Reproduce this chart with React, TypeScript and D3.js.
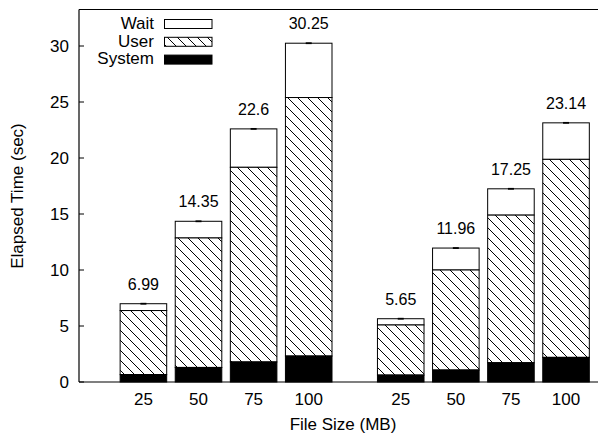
import React from "react";
import * as d3 from "d3";

const categories = ["25", "50", "75", "100"];
const groups = [0, 1];
const systemVals = [
  [0.66, 1.3, 1.79, 2.32],
  [0.62, 1.07, 1.72, 2.2],
];
const userVals = [
  [5.72, 11.56, 17.38, 23.08],
  [4.47, 8.93, 13.18, 17.68],
];
const waitVals = [
  [0.61, 1.49, 3.43, 4.85],
  [0.56, 1.96, 2.35, 3.26],
];
const totalLabels = [
  ["6.99", "14.35", "22.6", "30.25"],
  ["5.65", "11.96", "17.25", "23.14"],
];
const errVals = [
  [0.08, 0.08, 0.08, 0.08],
  [0.08, 0.08, 0.08, 0.08],
];
const yTicks = [0, 5, 10, 15, 20, 25, 30];
const legendItems = ["Wait", "User", "System"];

const W = 598;
const H = 434;
const left = 79;
const right = 598;
const top = 9.5;
const bottom = 382;
const groupOffset = 4.67;
const barW = 0.845;

export default function App() {
  const y = d3.scaleLinear().domain([0, 33.26]).range([bottom, top]);
  const x = d3.scaleLinear().domain([-1.169, 8.25]).range([left, right]);
  const bw = x(barW) - x(0);
  const font = "'Liberation Sans', Arial, Helvetica, sans-serif";

  const bars: any[] = [];
  groups.forEach((g) => {
    categories.forEach((c, i) => {
      const cx = x(g * groupOffset + i);
      const s = systemVals[g][i];
      const u = userVals[g][i];
      const w = waitVals[g][i];
      const total = s + u + w;
      const e = errVals[g][i];
      bars.push(
        <g key={`b${g}-${i}`}>
          <rect x={cx - bw / 2} y={y(total)} width={bw} height={y(s + u) - y(total)} fill="#fff" stroke="#000" strokeWidth={1} />
          <rect x={cx - bw / 2} y={y(s + u)} width={bw} height={y(s) - y(s + u)} fill="url(#hatch)" stroke="#000" strokeWidth={1} />
          <rect x={cx - bw / 2} y={y(s)} width={bw} height={y(0) - y(s)} fill="#000" stroke="#000" strokeWidth={1} />
          <rect x={cx - 3} y={y(total + e)} width={6} height={y(total - e) - y(total + e)} fill="#000" />
          <text x={cx} y={y(total) - 14} textAnchor="middle" fontSize={16} fontFamily={font}>{totalLabels[g][i]}</text>
          <text x={cx} y={405} textAnchor="middle" fontSize={17} fontFamily={font}>{c}</text>
        </g>
      );
    });
  });

  const legendFills = ["#fff", "url(#hatch)", "#000"];

  return (
    <svg width={W} height={H} style={{ position: "absolute", left: 0, top: 0, background: "#fff" }}>
      <defs>
        <pattern id="hatch" patternUnits="userSpaceOnUse" width={10} height={10}>
          <rect width={10} height={10} fill="#fff" />
          <path d="M0,0 L10,10 M-2,8 L2,12 M8,-2 L12,2" stroke="#000" strokeWidth={1} />
        </pattern>
      </defs>
      <rect x={0} y={0} width={W} height={H} fill="#fff" />
      {bars}
      {/* axes frame */}
      <line x1={left} y1={top} x2={left} y2={bottom} stroke="#000" strokeWidth={1.2} />
      <line x1={left} y1={top} x2={right} y2={top} stroke="#000" strokeWidth={1.2} />
      <line x1={left} y1={bottom} x2={right} y2={bottom} stroke="#000" strokeWidth={1.2} />
      {yTicks.map((t) => (
        <g key={`t${t}`}>
          <line x1={left} x2={left + 5} y1={y(t)} y2={y(t)} stroke="#000" strokeWidth={1} />
          <text x={69} y={y(t)} dy="0.36em" textAnchor="end" fontSize={17} fontFamily={font}>{t}</text>
        </g>
      ))}
      <text transform={`translate(22.5,196) rotate(-90)`} textAnchor="middle" fontSize={17} fontFamily={font}>Elapsed Time (sec)</text>
      <text x={343} y={430} textAnchor="middle" fontSize={17} fontFamily={font}>File Size (MB)</text>
      {legendItems.map((l, i) => (
        <g key={l}>
          <text x={154} y={29.3 + i * 17.5} textAnchor="end" fontSize={17} fontFamily={font}>{l}</text>
          <rect x={164.5} y={19.5 + i * 17.8} width={47.5} height={9} fill={legendFills[i]} stroke="#000" strokeWidth={1} />
        </g>
      ))}
    </svg>
  );
}
